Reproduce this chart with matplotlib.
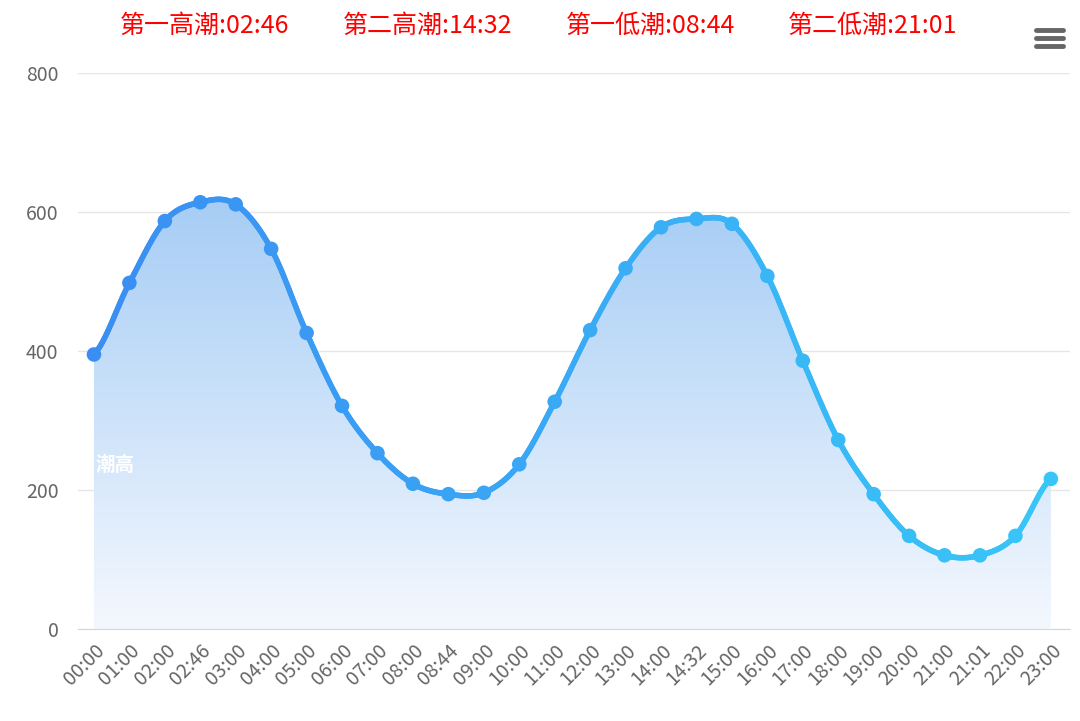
import numpy as np
import matplotlib
matplotlib.use("Agg")
import matplotlib.pyplot as plt
from matplotlib.collections import LineCollection
from matplotlib.patches import Polygon

plt.rcParams['font.family'] = ['Noto Sans CJK SC', 'DejaVu Sans']

times = ["00:00","01:00","02:00","02:46","03:00","04:00","05:00","06:00","07:00","08:00","08:44",
         "09:00","10:00","11:00","12:00","13:00","14:00","14:32","15:00","16:00","17:00","18:00",
         "19:00","20:00","21:00","21:01","22:00","23:00"]
heights = [395,498,587,614,611,547,426,321,253,209,194,196,237,327,430,519,578,590,583,508,386,272,
           194,134,106,106,134,216]
title_parts = ["第一高潮:02:46", "第二高潮:14:32", "第一低潮:08:44", "第二低潮:21:01"]
series_name = "潮高"

x = np.arange(len(times), dtype=float)
y = np.array(heights, dtype=float)

xs, ys = [], []
for i in range(len(x) - 1):
    p0 = y[max(i - 1, 0)]; p1 = y[i]; p2 = y[i + 1]; p3 = y[min(i + 2, len(y) - 1)]
    t = np.linspace(0, 1, 30, endpoint=False)
    yy = 0.5 * ((2 * p1) + (-p0 + p2) * t + (2 * p0 - 5 * p1 + 4 * p2 - p3) * t**2 + (-p0 + 3 * p1 - 3 * p2 + p3) * t**3)
    xs.extend(x[i] + t); ys.extend(yy)
xs.append(x[-1]); ys.append(y[-1])
xs = np.array(xs); ys = np.array(ys)

fig = plt.figure(figsize=(10.8, 7.21), dpi=100)
ax = fig.add_axes([78/1080, 1-629/721, (1070-78)/1080, (629-73)/721])
ax.set_xlim(-0.45, 27.54)
ax.set_ylim(0, 800)

grad = np.linspace(0, 1, 256).reshape(-1, 1)
cmap = matplotlib.colors.LinearSegmentedColormap.from_list("f", ["#f4f8fe", "#a6cdf5"])
im = ax.imshow(grad, aspect='auto', cmap=cmap, extent=[-0.45, 27.54, 0, 620], origin='lower', zorder=1)
poly = Polygon(np.column_stack([np.r_[xs, xs[-1], xs[0]], np.r_[ys, 0, 0]]), closed=True, transform=ax.transData)
im.set_clip_path(poly)

pts = np.column_stack([xs, ys]).reshape(-1, 1, 2)
segs = np.concatenate([pts[:-1], pts[1:]], axis=1)
lcmap = matplotlib.colors.LinearSegmentedColormap.from_list("l", ["#3a8ef2", "#38c6f8"])
lc = LineCollection(segs, colors=lcmap(xs[:-1] / xs[-1]), linewidth=4, zorder=3, capstyle='round')
ax.add_collection(lc)
ax.scatter(x, y, s=110, c=lcmap(x / x[-1]), zorder=4, linewidths=0)

ax.text(x[0] + 0.05, 235, series_name, color='white', fontsize=14, fontweight='bold', va='center', ha='left', zorder=5)

ax.set_yticks([0, 200, 400, 600, 800])
ax.grid(axis='y', color='#e6e6e6', linewidth=1)
ax.set_axisbelow(True)
for s in ['top', 'right', 'left']:
    ax.spines[s].set_visible(False)
ax.spines['bottom'].set_color('#ccd6eb')
ax.tick_params(axis='y', length=0, labelsize=14, labelcolor='#666666', pad=14)
ax.set_xticks(x)
ax.set_xticklabels(times, rotation=45, ha='right', rotation_mode='anchor', fontsize=14, color='#666666')
ax.tick_params(axis='x', length=0, pad=8)

for cx, part in zip([205, 428, 651, 873], title_parts):
    fig.text(cx/1080, 1-26/721, part, color='red', fontsize=18, ha='center', va='center')
for dy in [30, 38, 46]:
    fig.add_artist(plt.Line2D([1036/1080, 1063/1080], [1-dy/721]*2, color='#666666', linewidth=3.5, solid_capstyle='round'))

fig.savefig("out.png", dpi=100)
